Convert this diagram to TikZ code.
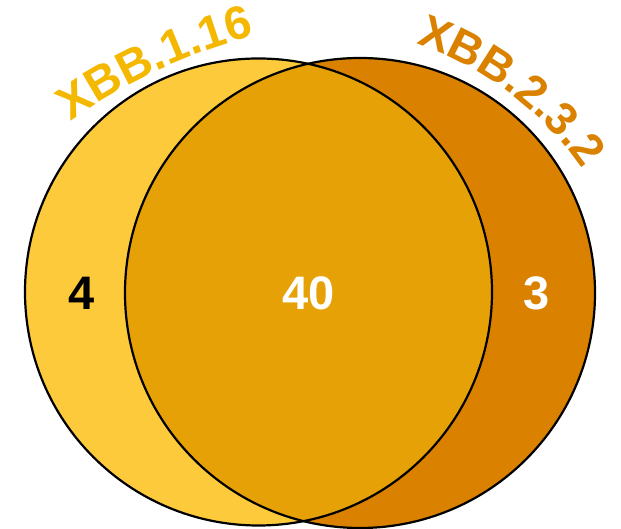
\documentclass[tikz,border=0pt]{standalone}
\usepackage{fontspec}
\setmainfont{Liberation Sans}
\usetikzlibrary{decorations.text}
\definecolor{setA}{RGB}{252,202,59}
\definecolor{setB}{RGB}{218,130,0}
\definecolor{setAB}{RGB}{229,161,6}
\definecolor{labA}{RGB}{245,184,0}
\definecolor{labB}{RGB}{218,130,0}
\newcommand{\bignum}{\fontsize{47}{47}\selectfont\bfseries}
\tikzset{
  outline/.style={draw=black, line width=2.2pt},
  count/.style={font=\bignum, inner sep=0pt}
}
\begin{document}
\begin{tikzpicture}[x=1pt,y=1pt]
\useasboundingbox (0,0) rectangle (621,529);
\coordinate (CA) at (258.5,237);
\coordinate (CB) at (360,236);
\coordinate (LA) at (393,-44);
\coordinate (LB) at (312,174);
% fills
\fill[setA] (CA) circle[radius=233.5];
\fill[setB] (CB) circle[radius=235];
\begin{scope}
  \clip (CA) circle[radius=233.5];
  \fill[setAB] (CB) circle[radius=235];
\end{scope}
% outlines
\draw[outline] (CA) circle[radius=233.5];
\draw[outline] (CB) circle[radius=235];
% counts
\node[count, text=black] (nA) at (82,236) {4};
\node[count, text=white] (nAB) at (309,236) {40};
\node[count, text=white] (nB) at (537,236) {3};
% labels along arcs
\path[decorate, decoration={text along path, text align=left,
  text={|\fontsize{47}{47}\selectfont\bfseries\color{labA}|XBB.1.16}}]
  (LA) ++(125.5:554.6) arc[start angle=125.5, end angle=95, radius=554.6];
\path[decorate, decoration={text along path, text align=left,
  text={|\fontsize{46}{46}\selectfont\bfseries\color{labB}|XBB.2.3.2}}]
  (LB) ++(71.5:328) arc[start angle=71.5, end angle=20, radius=328];
\end{tikzpicture}
\end{document}
